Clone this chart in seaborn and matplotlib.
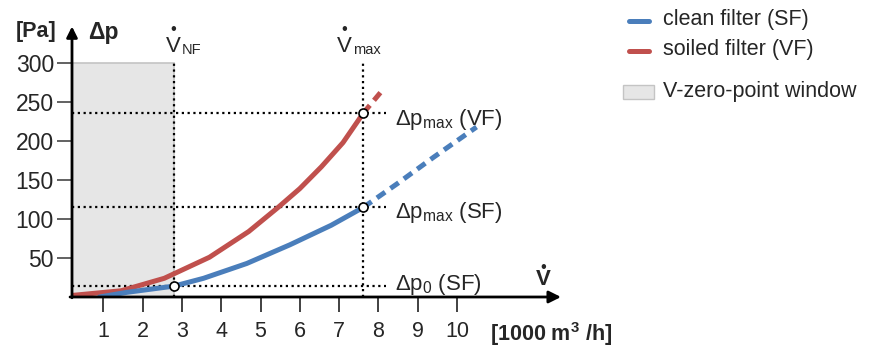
import matplotlib
matplotlib.use('Agg')
import matplotlib.pyplot as plt
import seaborn as sns
from matplotlib.patches import Rectangle
from matplotlib.lines import Line2D

# flow rate in 1000 m3/h, pressure drop in Pa
vol_clean = [0.9, 1.6, 2.8, 3.55, 4.65, 5.75, 6.8, 7.62]
dp_clean = [0, 6, 14, 24, 43, 67, 92, 115]
vol_clean_ext = [7.62, 8.5, 9.4, 10.5]
dp_clean_ext = [115, 146, 179, 218]

vol_soiled = [0.2, 1.45, 2.55, 3.7, 4.7, 5.45, 6.0, 6.55, 7.1, 7.62]
dp_soiled = [2, 8, 24, 51, 84, 115, 139, 167, 198, 236]
vol_soiled_ext = [7.62, 8.15]
dp_soiled_ext = [236, 268]

v_nf = 2.8
v_max = 7.62
dp0_sf = 14
dpmax_sf = 115
dpmax_vf = 236

xticks = [1, 2, 3, 4, 5, 6, 7, 8, 9, 10]
yticks = [50, 100, 150, 200, 250, 300]

sns.set_style('white')
plt.rcParams['font.family'] = ['Liberation Sans', 'DejaVu Sans']
plt.rcParams['mathtext.fontset'] = 'custom'
plt.rcParams['mathtext.rm'] = 'Liberation Sans'
plt.rcParams['mathtext.it'] = 'Liberation Sans'
plt.rcParams['mathtext.bf'] = 'Liberation Sans:bold'

blue = '#4a7ebb'
red = '#c0504d'

fig = plt.figure(figsize=(8.72, 3.46), dpi=100)
ax = fig.add_axes([72/872, 49/346, 487/872, 269/346])
ax.set_xlim(0.2, 12.6)
ax.set_ylim(0, 345)

# zero point window
ax.add_patch(Rectangle((0.2, 0), v_nf - 0.2, 300, facecolor='#e6e6e6',
                       edgecolor='#c4c4c4', lw=1.2, zorder=0))

# dotted guide lines
dot = (0, (1, 1.6))
ax.plot([v_nf, v_nf], [0, 300], color='k', ls=dot, lw=1.6, zorder=1)
ax.plot([v_max, v_max], [0, 300], color='k', ls=dot, lw=1.6, zorder=1)
for yy in [dp0_sf, dpmax_sf, dpmax_vf]:
    ax.plot([0.2, 8.2], [yy, yy], color='k', ls=dot, lw=1.6, zorder=1)

# curves
sns.lineplot(x=vol_soiled, y=dp_soiled, color=red, lw=3.6, ax=ax, sort=False,
             estimator=None, zorder=3)
sns.lineplot(x=vol_soiled_ext, y=dp_soiled_ext, color=red, lw=3.6, ax=ax,
             sort=False, estimator=None, zorder=3, linestyle=(0, (2, 1.3)))
sns.lineplot(x=vol_clean, y=dp_clean, color=blue, lw=3.6, ax=ax, sort=False,
             estimator=None, zorder=3)
sns.lineplot(x=vol_clean_ext, y=dp_clean_ext, color=blue, lw=3.6, ax=ax,
             sort=False, estimator=None, zorder=3, linestyle=(0, (2, 1.3)))

ax.plot([v_nf, v_max, v_max], [dp0_sf, dpmax_sf, dpmax_vf], 'o', ms=6.5,
        mfc='white', mec='k', mew=1.2, zorder=4)

# axes with arrows
for s in ax.spines.values():
    s.set_visible(False)
ax.annotate('', xy=(12.65, 0), xytext=(0.15, 0), annotation_clip=False,
            arrowprops=dict(arrowstyle='-|>', lw=2, color='k', mutation_scale=18,
                            shrinkA=0, shrinkB=0))
ax.annotate('', xy=(0.2, 347), xytext=(0.2, -1), annotation_clip=False,
            arrowprops=dict(arrowstyle='-|>', lw=2, color='k', mutation_scale=16,
                            shrinkA=0, shrinkB=0))

ax.set_xticks(xticks)
ax.set_yticks(yticks)
ax.tick_params(axis='x', direction='out', length=11, width=1.3, color='#333333',
               labelsize=15.5, pad=6, bottom=True)
ax.tick_params(axis='y', direction='out', length=11, width=1.3, color='#555555',
               labelsize=16.5, pad=2, left=True)
ax.grid(False)

def fx(px):
    return px / 872

def fy(py):
    return 1 - py / 346

def vdot(px, py, size, dot_up, sub=None, bold=False):
    # V with a dot above, optional subscript
    w = 'bold' if bold else 'normal'
    fig.text(fx(px), fy(py), 'V', fontsize=size, fontweight=w, ha='left', va='baseline')
    fig.text(fx(px + size * 0.47), fy(py - dot_up), '•', fontsize=size * 0.75,
             ha='center', va='baseline')
    if sub:
        fig.text(fx(px + size * 1.0), fy(py + 2), sub, fontsize=size * 0.66,
                 ha='left', va='baseline')

fig.text(fx(36), fy(32), '[Pa]', fontsize=15.5, fontweight='bold', ha='center', va='center')
fig.text(fx(103), fy(32), 'Δp', fontsize=16.5, fontweight='bold', ha='center', va='center')
vdot(166, 52, 16, 18, 'NF')
vdot(337, 52, 16, 18, 'max')
fig.text(fx(395), fy(125), r'Δp$_{\mathrm{max}}$ (VF)', fontsize=16, ha='left', va='baseline')
fig.text(fx(395), fy(218), r'Δp$_{\mathrm{max}}$ (SF)', fontsize=16, ha='left', va='baseline')
fig.text(fx(395), fy(290), r'Δp$_{\mathrm{0}}$ (SF)', fontsize=16, ha='left', va='baseline')
vdot(536, 285, 16, 13, bold=True)
fig.text(fx(490), fy(341), r'[1000 m$^\mathbf{3}$ /h]', fontsize=15.5, fontweight='bold',
         ha='left', va='baseline')

# legend
fig.add_artist(Line2D([fx(629), fx(649)], [fy(21), fy(21)], color=blue, lw=3.6,
                      solid_capstyle='round'))
fig.add_artist(Line2D([fx(629), fx(649)], [fy(51), fy(51)], color=red, lw=3.6,
                      solid_capstyle='round'))
fig.add_artist(Rectangle((fx(623), fy(99)), 31/872, 14/346, facecolor='#e6e6e6',
                         edgecolor='#c4c4c4', lw=1, transform=fig.transFigure))
fig.text(fx(663), fy(20), 'clean filter (SF)', fontsize=15.5, ha='left', va='center')
fig.text(fx(663), fy(50), 'soiled filter (VF)', fontsize=15.5, ha='left', va='center')
fig.text(fx(663), fy(92), 'V-zero-point window', fontsize=15.5, ha='left', va='center')

fig.savefig('out.png', dpi=100)
